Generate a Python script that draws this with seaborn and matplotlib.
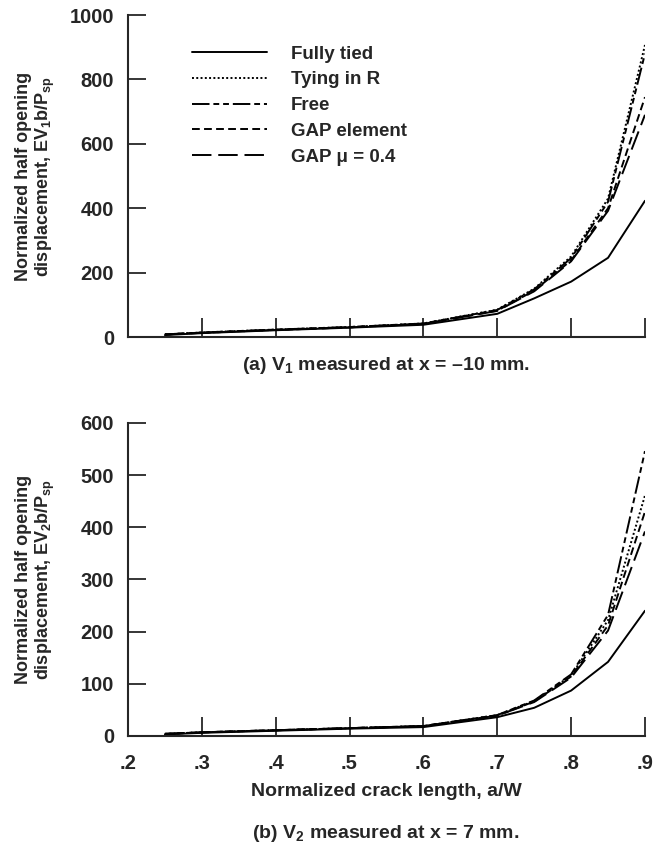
import pandas as pd
import seaborn as sns
import matplotlib.pyplot as plt
from matplotlib.ticker import FuncFormatter

# crack length a/W
crack = [0.25, 0.3, 0.4, 0.5, 0.6, 0.7, 0.75, 0.8, 0.85, 0.9]

# (a) V1 at x = -10 mm
v1_fully_tied = [6, 12, 21, 29, 38, 72, 120, 172, 246, 423]
v1_tying_r = [8, 14, 23, 31, 42, 85, 150, 250, 430, 907]
v1_free = [8, 14, 23, 31, 42, 84, 148, 245, 420, 880]
v1_gap_el = [8, 13, 22, 30, 41, 82, 144, 238, 400, 745]
v1_gap_mu = [8, 13, 22, 30, 41, 81, 142, 235, 392, 690]

# (b) V2 at x = 7 mm
v2_fully_tied = [3, 6, 10, 14, 17, 36, 54, 87, 142, 240]
v2_tying_r = [4, 7, 11, 15, 19, 40, 67, 116, 222, 461]
v2_free = [4, 7, 11, 15, 19, 40, 68, 118, 232, 546]
v2_gap_el = [4, 7, 11, 15, 19, 39, 66, 114, 212, 430]
v2_gap_mu = [4, 7, 11, 15, 19, 39, 65, 112, 202, 392]

names = ["Fully tied", "Tying in R", "Free", "GAP element", "GAP \u03bc = 0.4"]
styles = ["-", (0, (1, 1.2)), (0, (9, 2, 3, 2, 3, 2)), (0, (4, 2.2)), (0, (10, 3.5))]

sns.set_style("ticks")
plt.rcParams["font.family"] = ["Liberation Sans", "DejaVu Sans"]
plt.rcParams["font.weight"] = "bold"
plt.rcParams["mathtext.fontset"] = "custom"
plt.rcParams["mathtext.rm"] = "Liberation Sans:bold"
plt.rcParams["mathtext.it"] = "Liberation Sans:bold"
plt.rcParams["mathtext.bf"] = "Liberation Sans:bold"
plt.rcParams["mathtext.default"] = "rm"

fig = plt.figure(figsize=(6.55, 8.44), dpi=100)
ax1 = fig.add_axes([0.1954, 0.6007, 0.7893, 0.3815])
ax2 = fig.add_axes([0.1954, 0.1280, 0.7893, 0.3709])

panels = [
    (ax1, [v1_fully_tied, v1_tying_r, v1_free, v1_gap_el, v1_gap_mu]),
    (ax2, [v2_fully_tied, v2_tying_r, v2_free, v2_gap_el, v2_gap_mu]),
]
for ax, series in panels:
    for vals, name, ls in zip(series, names, styles):
        df = pd.DataFrame({"a/W": crack, "v": vals})
        sns.lineplot(data=df, x="a/W", y="v", ax=ax, color="black",
                     linestyle=ls, linewidth=1.4, label=name, legend=False)
    ax.set_xlim(0.2, 0.9)
    ax.set_xticks([0.2, 0.3, 0.4, 0.5, 0.6, 0.7, 0.8, 0.9])
    for s in ["top", "right"]:
        ax.spines[s].set_visible(False)
    for s in ["left", "bottom"]:
        ax.spines[s].set_linewidth(1.5)
    ax.tick_params(axis="y", direction="in", length=13, width=1.3,
                   labelsize=14.5, pad=10)
    ax.tick_params(axis="x", direction="in", length=14, width=1.3,
                   labelsize=14.5, pad=13)

ax1.set_ylim(0, 1000)
ax1.set_yticks([0, 200, 400, 600, 800, 1000])
ax1.set_xticklabels([])
ax1.set_xlabel("")
ax1.set_ylabel("Normalized half opening\ndisplacement, EV$_1$b/P$_{sp}$",
               fontsize=13, fontweight="bold", linespacing=1.1)
ax1.yaxis.set_label_coords(-0.137, 0.5)

ax2.set_ylim(0, 600)
ax2.set_yticks([0, 100, 200, 300, 400, 500, 600])
ax2.xaxis.set_major_formatter(FuncFormatter(lambda v, p: f"{v:.1f}".lstrip("0")))
ax2.set_xlabel("Normalized crack length, a/W", fontsize=14,
               fontweight="bold", labelpad=7)
ax2.set_ylabel("Normalized half opening\ndisplacement, EV$_2$b/P$_{sp}$",
               fontsize=13, fontweight="bold", linespacing=1.1)
ax2.yaxis.set_label_coords(-0.137, 0.5)

handles, labels = ax1.get_legend_handles_labels()
ax1.legend(handles, labels, loc="upper left", bbox_to_anchor=(0.124, 0.905),
           frameon=False, fontsize=13.5, handlelength=4.0, handletextpad=1.25,
           labelspacing=0.46, borderpad=0, borderaxespad=0)

fig.text(0.589, 0.567, "(a) V$_1$ measured at x = \u201310 mm.", ha="center",
         va="center", fontsize=14, fontweight="bold")
fig.text(0.589, 0.013, "(b) V$_2$ measured at x = 7 mm.", ha="center",
         va="center", fontsize=14, fontweight="bold")

fig.savefig("out.png", dpi=100)
